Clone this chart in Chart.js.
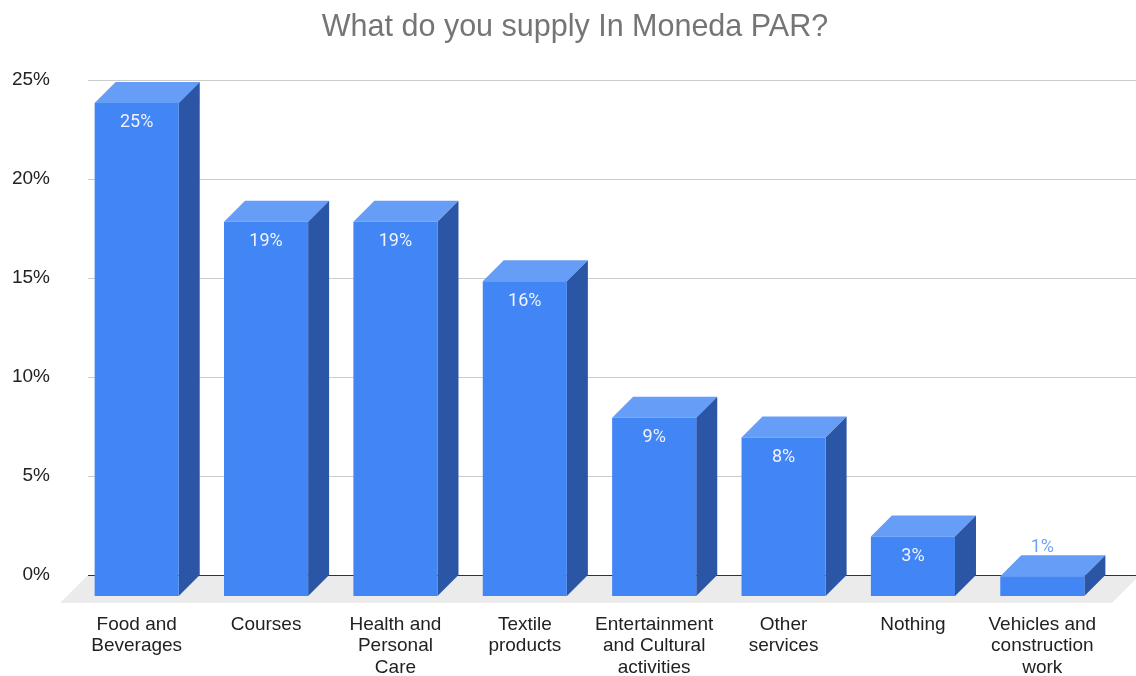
<!DOCTYPE html>
<html>
<head>
<meta charset="utf-8">
<title>What do you supply In Moneda PAR?</title>
<script src="https://cdn.jsdelivr.net/npm/chart.js@4"></script>
<style>
  html, body { margin: 0; padding: 0; background: #fff; }
  canvas { display: block; }
</style>
</head>
<body>
<canvas id="chart" width="1136" height="676"></canvas>
<script>
// data
const categories = [
  ['Food and', 'Beverages'],
  ['Courses'],
  ['Health and', 'Personal', 'Care'],
  ['Textile', 'products'],
  ['Entertainment', 'and Cultural', 'activities'],
  ['Other', 'services'],
  ['Nothing'],
  ['Vehicles and', 'construction', 'work']
];
const shares = [24.9, 18.9, 18.9, 15.9, 9.0, 8.0, 3.0, 1.0];
const yTicks = [0, 5, 10, 15, 20, 25];
const chartTitle = 'What do you supply In Moneda PAR?';

// look of the fake 3D
const DEPTH = 21;
const FLOOR = 28;
const FRONT = '#4285f4';
const TOP = '#669df6';
const SIDE = '#2b56a5';

Chart.defaults.font.family = '"Liberation Sans", Arial, sans-serif';
Chart.defaults.color = '#222';

const bars3d = {
  id: 'bars3d',
  beforeDatasetsDraw(chart) {
    const { ctx, chartArea: a, scales: { y } } = chart;
    ctx.save();

    // grey floor under the bars
    ctx.fillStyle = '#ebebeb';
    ctx.beginPath();
    ctx.moveTo(a.left - 5, a.bottom);
    ctx.lineTo(a.right + 12, a.bottom);
    ctx.lineTo(a.right + 12 - FLOOR, a.bottom + FLOOR);
    ctx.lineTo(a.left - 5 - FLOOR, a.bottom + FLOOR);
    ctx.closePath();
    ctx.fill();

    // gridlines on the back wall
    y.ticks.forEach(t => {
      const py = Math.round(y.getPixelForValue(t.value)) + 0.5;
      ctx.strokeStyle = t.value === 0 ? '#333' : '#ccc';
      ctx.lineWidth = 1;
      ctx.beginPath();
      ctx.moveTo(a.left - 5, py);
      ctx.lineTo(chart.width, py);
      ctx.stroke();
    });

    // top and side faces, front face comes from the library below
    chart.getDatasetMeta(0).data.forEach(bar => {
      const { x, y: top, base, width } = bar.getProps(['x', 'y', 'base', 'width'], true);
      const L = x - width / 2, R = x + width / 2;
      ctx.fillStyle = TOP;
      ctx.beginPath();
      ctx.moveTo(L - DEPTH, top + DEPTH);
      ctx.lineTo(R - DEPTH, top + DEPTH);
      ctx.lineTo(R, top);
      ctx.lineTo(L, top);
      ctx.closePath();
      ctx.fill();
      ctx.fillStyle = SIDE;
      ctx.beginPath();
      ctx.moveTo(R - DEPTH, top + DEPTH);
      ctx.lineTo(R, top);
      ctx.lineTo(R, base);
      ctx.lineTo(R - DEPTH, base + DEPTH);
      ctx.closePath();
      ctx.fill();
    });

    ctx.translate(-DEPTH, DEPTH);
  },
  afterDatasetsDraw(chart) {
    const { ctx } = chart;
    ctx.restore();

    // value labels
    ctx.save();
    ctx.font = '18px Roboto, "Liberation Sans", sans-serif';
    ctx.textAlign = 'center';
    ctx.textBaseline = 'middle';
    chart.getDatasetMeta(0).data.forEach((bar, i) => {
      const { x, y: top, base } = bar.getProps(['x', 'y', 'base'], true);
      const fx = x - DEPTH, ft = top + DEPTH;
      const txt = Math.round(shares[i]) + '%';
      if (base - top > 30) {
        ctx.fillStyle = '#eef3fe';
        ctx.fillText(txt, fx, ft + 20);
      } else {
        ctx.lineWidth = 3;
        ctx.strokeStyle = '#fff';
        ctx.strokeText(txt, fx, ft - 29);
        ctx.fillStyle = '#6fa3f7';
        ctx.fillText(txt, fx, ft - 29);
      }
    });
    ctx.restore();
  },
  afterDraw(chart) {
    const { ctx } = chart;
    ctx.save();
    ctx.font = '30.5px "Liberation Sans", Arial, sans-serif';
    ctx.fillStyle = '#757575';
    ctx.textAlign = 'center';
    ctx.textBaseline = 'alphabetic';
    ctx.fillText(chartTitle, 575, 36);
    ctx.restore();
  }
};

new Chart(document.getElementById('chart'), {
  type: 'bar',
  data: {
    labels: categories,
    datasets: [{
      data: shares,
      backgroundColor: FRONT,
      borderWidth: 0,
      barPercentage: 0.65,
      categoryPercentage: 1,
      clip: false
    }]
  },
  options: {
    responsive: false,
    animation: false,
    devicePixelRatio: 1,
    layout: { padding: { top: 80, left: 12, right: 8, bottom: 0 } },
    plugins: {
      legend: { display: false },
      tooltip: { enabled: false },
      title: { display: false }
    },
    scales: {
      x: {
        grid: { display: false, drawTicks: false },
        border: { display: false },
        afterFit: s => { s.paddingLeft = 0; s.paddingRight = 0; s.height = 101; },
        ticks: {
          padding: 39,
          labelOffset: -DEPTH,
          autoSkip: false,
          maxRotation: 0,
          color: '#222',
          font: { size: 19, lineHeight: 1.13 }
        }
      },
      y: {
        min: 0,
        max: 25,
        afterBuildTicks: axis => { axis.ticks = yTicks.map(v => ({ value: v })); },
        afterFit: s => { s.paddingTop = 0; s.paddingBottom = 0; s.width = 81; },
        grid: { display: false, drawTicks: false },
        border: { display: false },
        ticks: {
          padding: 43,
          color: '#222',
          font: { size: 19 },
          callback: v => v + '%'
        }
      }
    }
  },
  plugins: [bars3d]
});
</script>
</body>
</html>
